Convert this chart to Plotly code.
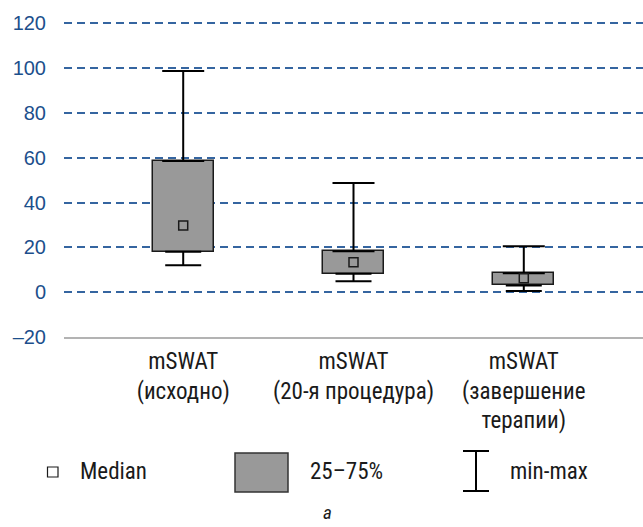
import plotly.graph_objects as go

categories = ["mSWAT<br>(исходно)", "mSWAT<br>(20-я процедура)", "mSWAT<br>(завершение<br>терапии)"]
q1 = [18, 8.2, 3]
q3 = [58.5, 18.3, 8.5]
median = [29.7, 13.4, 6.2]
vmin = [12, 4.9, 0.5]
vmax = [98.7, 48.7, 20.5]
y_ticks = [-20, 0, 20, 40, 60, 80, 100, 120]
y_tick_text = ["–20", "0", "20", "40", "60", "80", "100", "120"]
legend_labels = ["Median", "25–75%", "min-max"]
caption = "а"

W, H = 643, 527
L, R, T, B = 64, 0, 21, 190
PW, PH = W - L - R, H - T - B

def px(x):
    return (x - L) / PW

def py(y):
    return (H - B - y) / PH

NARROW = "Liberation Sans Narrow, Arial Narrow, Roboto Condensed, DejaVu Sans Condensed, sans-serif"
BOX_FILL = "#999999"
EDGE = "#1a1a1a"

fig = go.Figure()

fig.add_trace(go.Bar(
    x=categories,
    y=[b - a for a, b in zip(q1, q3)],
    base=q1,
    width=0.36,
    marker=dict(color=BOX_FILL, line=dict(color=EDGE, width=1.5)),
    showlegend=False, hoverinfo="skip",
))

fig.add_trace(go.Scatter(
    x=categories, y=q3, mode="markers",
    marker=dict(size=1, opacity=0),
    error_y=dict(type="data", symmetric=False,
                 array=[b - a for a, b in zip(q3, vmax)],
                 arrayminus=[0, 0, 0],
                 color="#000000", thickness=2, width=21),
    showlegend=False, hoverinfo="skip",
))
fig.add_trace(go.Scatter(
    x=categories, y=q1, mode="markers",
    marker=dict(size=1, opacity=0),
    error_y=dict(type="data", symmetric=False,
                 array=[0, 0, 0],
                 arrayminus=[a - b for a, b in zip(q1, vmin)],
                 color="#000000", thickness=2, width=18),
    showlegend=False, hoverinfo="skip",
))
fig.add_trace(go.Scatter(
    x=categories, y=median, mode="markers",
    marker=dict(symbol="square", size=9, color=BOX_FILL,
                line=dict(color=EDGE, width=1.5)),
    showlegend=False, hoverinfo="skip",
))

shapes = []
shapes.append(dict(type="rect", xref="paper", yref="paper",
                   x0=px(47.5), x1=px(58), y0=py(477), y1=py(467),
                   fillcolor="white", line=dict(color=EDGE, width=1.2)))
shapes.append(dict(type="rect", xref="paper", yref="paper",
                   x0=px(235), x1=px(288), y0=py(492), y1=py(453),
                   fillcolor=BOX_FILL, line=dict(color="#333333", width=1.5)))
for (xa, ya, xb, yb) in [(463, 451, 489, 451), (463, 491, 489, 491), (476, 451, 476, 491)]:
    shapes.append(dict(type="line", xref="paper", yref="paper",
                       x0=px(xa), x1=px(xb), y0=py(ya), y1=py(yb),
                       line=dict(color="#000000", width=2)))

annotations = []
for txt, x in zip(legend_labels, [78, 308, 508]):
    annotations.append(dict(text=txt, xref="paper", yref="paper",
                            x=px(x), y=py(471), xanchor="left", yanchor="middle",
                            showarrow=False,
                            font=dict(family=NARROW, size=23, color="#1a1a1a")))
annotations.append(dict(text="<i>" + caption + "</i>", xref="paper", yref="paper",
                        x=px(327), y=py(526), xanchor="center", yanchor="bottom",
                        showarrow=False,
                        font=dict(family=NARROW, size=19, color="#1a1a1a")))

fig.update_layout(
    width=W, height=H,
    margin=dict(l=L, r=R, t=T, b=B, pad=0),
    paper_bgcolor="white", plot_bgcolor="white",
    bargap=0,
    shapes=shapes, annotations=annotations,
    showlegend=False,
    xaxis=dict(
        type="category", range=[-0.7, 2.7],
        showgrid=False, zeroline=False,
        showline=True, linecolor="#b3b3b3", linewidth=2,
        ticks="", tickfont=dict(family=NARROW, size=23, color="#1a1a1a"),
        ticklabelstandoff=2,
    ),
    yaxis=dict(
        range=[-20, 121], tickvals=y_ticks, ticktext=y_tick_text,
        showgrid=True, gridcolor="#3565a0", gridwidth=1.5, griddash="8px,5px",
        zeroline=False, showline=False, ticks="",
        tickfont=dict(family="Liberation Sans, Arial, sans-serif", size=20, color="#1c4f8c"),
        ticklabelstandoff=17,
    ),
)

fig.write_html("out.html", config={"displayModeBar": False},
               post_script="document.body.style.margin='0';document.body.style.padding='0';")
